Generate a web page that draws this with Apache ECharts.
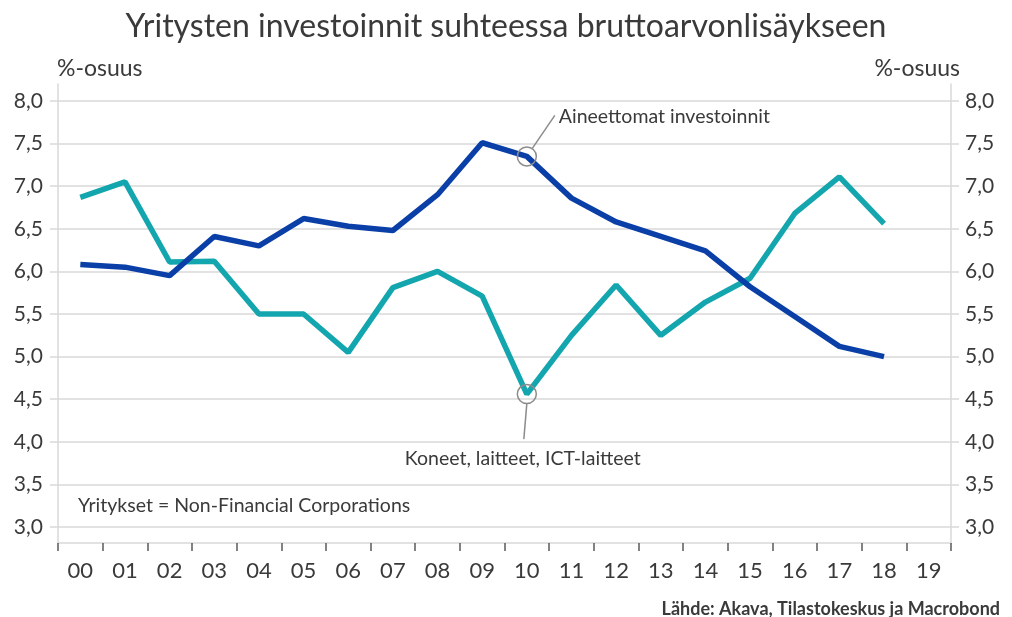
<!DOCTYPE html>
<html>
<head>
<meta charset="utf-8">
<script src="https://cdn.jsdelivr.net/npm/echarts@6/dist/echarts.min.js"></script>
<style>
html,body{margin:0;padding:0;background:#fff;}
#c{width:1012px;height:617px;}
</style>
</head>
<body>
<div id="c"></div>
<script>
var years = ['00','01','02','03','04','05','06','07','08','09','10','11','12','13','14','15','16','17','18','19'];
var aineettomat = [6.08,6.05,5.95,6.41,6.30,6.62,6.53,6.48,6.90,7.51,7.35,6.86,6.58,6.41,6.24,5.82,5.47,5.12,5.00,null];
var koneet = [6.87,7.05,6.11,6.12,5.50,5.50,5.05,5.81,6.00,5.71,4.56,5.25,5.84,5.25,5.64,5.92,6.68,7.11,6.56,null];
var yTicks = {min:3, max:8, step:0.5};

var FONT = 'Lato';
var TXT = '#3a3a3a';
var GRID = '#d9d9d9';
var BLUE = '#0b3fa8';
var TEAL = '#14a6ae';

var chart = echarts.init(document.getElementById('c'));
function fmt(v){ return v.toFixed(1).replace('.', ','); }
var yLabel = {color:TXT, fontFamily:FONT, fontSize:21, formatter:fmt};

var option = {
  backgroundColor:'#fff',
  animation:false,
  textStyle:{fontFamily:FONT},
  grid:[
    {left:58, right:61, top:101, bottom:90},
    {left:58, right:61, top:84, bottom:74}
  ],
  xAxis:[
    {gridIndex:0, type:'category', data:years, boundaryGap:true, show:false},
    {gridIndex:1, type:'category', data:years, boundaryGap:true,
     axisLine:{show:true, lineStyle:{color:GRID, width:1.5}},
     axisTick:{show:true, interval:0, length:8, lineStyle:{color:'#595959', width:1.5}},
     axisLabel:{interval:0, color:TXT, fontFamily:FONT, fontSize:22, margin:17},
     splitLine:{show:false}}
  ],
  yAxis:[
    {gridIndex:0, type:'value', position:'left', min:yTicks.min, max:yTicks.max, interval:yTicks.step,
     axisLine:{show:false}, axisTick:{show:true, length:8, lineStyle:{color:GRID, width:1.5}},
     axisLabel:Object.assign({margin:15}, yLabel),
     splitLine:{show:true, lineStyle:{color:GRID, width:1.5}}},
    {gridIndex:0, type:'value', position:'right', min:yTicks.min, max:yTicks.max, interval:yTicks.step,
     axisLine:{show:false}, axisTick:{show:true, length:8, lineStyle:{color:GRID, width:1.5}},
     axisLabel:Object.assign({margin:14}, yLabel),
     splitLine:{show:false}},
    {gridIndex:1, type:'value', position:'left', min:0, max:1,
     axisLine:{show:true, lineStyle:{color:GRID, width:1.5}}, axisTick:{show:false}, axisLabel:{show:false}, splitLine:{show:false}},
    {gridIndex:1, type:'value', position:'right', min:0, max:1,
     axisLine:{show:true, lineStyle:{color:GRID, width:1.5}}, axisTick:{show:false}, axisLabel:{show:false}, splitLine:{show:false}}
  ],
  series:[
    {name:'Aineettomat investoinnit', type:'line', xAxisIndex:0, yAxisIndex:0, data:aineettomat,
     symbol:'none', lineStyle:{color:BLUE, width:5.5}, itemStyle:{color:BLUE}, z:3,
     markPoint:{symbol:'circle', symbolSize:19, silent:true, label:{show:false},
       itemStyle:{color:'rgba(255,255,255,0)', borderColor:'#8c8c8c', borderWidth:1.5},
       data:[{coord:[years[10], aineettomat[10]]}]}},
    {name:'Koneet, laitteet, ICT-laitteet', type:'line', xAxisIndex:0, yAxisIndex:0, data:koneet,
     symbol:'none', lineStyle:{color:TEAL, width:5.5}, itemStyle:{color:TEAL}, z:2,
     markPoint:{symbol:'circle', symbolSize:19, silent:true, label:{show:false},
       itemStyle:{color:'rgba(255,255,255,0)', borderColor:'#8c8c8c', borderWidth:1.5},
       data:[{coord:[years[10], koneet[10]]}]}}
  ]
};
chart.setOption(option);

var pB = chart.convertToPixel({gridIndex:0}, [10, aineettomat[10]]);
var pT = chart.convertToPixel({gridIndex:0}, [10, koneet[10]]);

chart.setOption({
  graphic:[
    {type:'text', x:506, y:27, style:{text:'Yritysten investoinnit suhteessa bruttoarvonlisäykseen', fill:TXT, font:'32px '+FONT, textAlign:'center', textVerticalAlign:'middle'}},
    {type:'text', x:57, y:69, style:{text:'%-osuus', fill:TXT, font:'23px '+FONT, textVerticalAlign:'middle'}},
    {type:'text', x:960, y:69, style:{text:'%-osuus', fill:TXT, font:'23px '+FONT, textAlign:'right', textVerticalAlign:'middle'}},
    {type:'line', shape:{x1:pB[0]+5.5, y1:pB[1]-8, x2:pB[0]+28, y2:pB[1]-41}, style:{stroke:'#8c8c8c', lineWidth:1.5}},
    {type:'text', x:pB[0]+32, y:pB[1]-40, style:{text:'Aineettomat investoinnit', fill:TXT, font:'19.5px '+FONT, textVerticalAlign:'middle'}},
    {type:'line', shape:{x1:pT[0], y1:pT[1]+9.5, x2:pT[0]-3, y2:pT[1]+45}, style:{stroke:'#8c8c8c', lineWidth:1.5}},
    {type:'text', x:pT[0]-4, y:pT[1]+65, style:{text:'Koneet, laitteet, ICT-laitteet', fill:TXT, font:'19.5px '+FONT, textAlign:'center', textVerticalAlign:'middle'}},
    {type:'text', x:78, y:506, style:{text:'Yritykset = Non-Financial Corporations', fill:TXT, font:'19.5px '+FONT, textVerticalAlign:'middle'}},
    {type:'text', x:1000, y:609, style:{text:'Lähde: Akava, Tilastokeskus ja Macrobond', fill:TXT, font:'bold 18px '+FONT, textAlign:'right', textVerticalAlign:'middle'}}
  ]
});
</script>
</body>
</html>
